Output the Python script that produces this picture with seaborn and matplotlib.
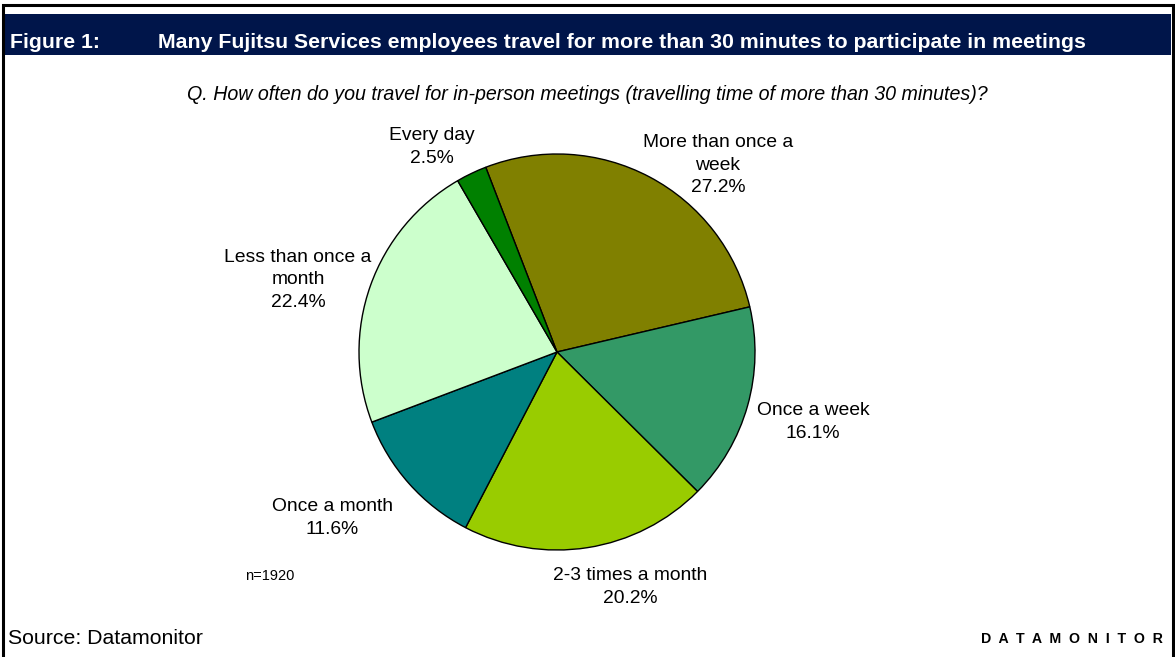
import matplotlib
matplotlib.use("Agg")
import matplotlib.pyplot as plt
import seaborn as sns
from matplotlib.patches import Rectangle

sns.set_theme(style="white")
plt.rcParams['font.family'] = ['Liberation Sans', 'DejaVu Sans']
plt.rcParams['text.color'] = 'black'

# ---- data ----
categories = ["More than once a\nweek", "Once a week", "2-3 times a month",
              "Once a month", "Less than once a\nmonth", "Every day"]
values = [27.2, 16.1, 20.2, 11.6, 22.4, 2.5]
colors = ["#808000", "#339966", "#99CC00", "#008080", "#CCFFCC", "#008000"]

title_num = "Figure 1:"
title_text = "Many Fujitsu Services employees travel for more than 30 minutes to participate in meetings"
subtitle = "Q. How often do you travel for in-person meetings (travelling time of more than 30 minutes)?"
sample_note = "n=1920"
source = "Source: Datamonitor"
brand = "D  A  T  A  M  O  N  I  T  O  R"

# ---- layout (pixel coordinates, origin bottom-left) ----
W, H = 1175, 657
pie_center = (557, H - 352)
pie_radius = 198
label_centers = [(718, H - 165), (813, H - 422), (630, H - 587),
                 (332, H - 518), (298, H - 280), (432, H - 147)]

fig = plt.figure(figsize=(W / 100, H / 100), dpi=100)
ax = fig.add_axes([0, 0, 1, 1])
ax.set_xlim(0, W)
ax.set_ylim(0, H)
ax.set_axis_off()

wedges, _ = ax.pie(values, colors=colors, startangle=111.1, counterclock=False,
                   center=pie_center, radius=pie_radius,
                   wedgeprops=dict(edgecolor="black", linewidth=1.0))
ax.set_xlim(0, W)
ax.set_ylim(0, H)
ax.set_aspect("equal")

for cat, val, (lx, ly) in zip(categories, values, label_centers):
    ax.text(lx, ly, f"{cat}\n{val:.1f}%", ha="center", va="center",
            fontsize=13.9, linespacing=1.39, color="black")

# frame
ax.add_patch(Rectangle((3, -20), 1170, H - 5 + 20, fill=False,
                       edgecolor="black", linewidth=2.2, zorder=5))
# title bar
ax.add_patch(Rectangle((4, H - 55), 1167, 41, facecolor="#00154A",
                       edgecolor="none", zorder=4))
ax.text(10, H - 43, title_num, color="white", fontweight="bold",
        fontsize=15.3, va="center", ha="left", zorder=6)
ax.text(158, H - 43, title_text, color="white", fontweight="bold",
        fontsize=15.3, va="center", ha="left", zorder=6)

ax.text(587, H - 95, subtitle, style="italic", fontsize=14.1,
        ha="center", va="center", color="black")
ax.text(245, H - 576, sample_note, fontsize=10.5, ha="left", va="center",
        color="black")
ax.text(8, H - 638, source, fontsize=15.3, ha="left", va="center",
        color="black")
ax.text(1163, H - 639, brand, fontsize=10.2, fontweight="bold",
        ha="right", va="center", color="black")

fig.savefig("out.png", dpi=100)
